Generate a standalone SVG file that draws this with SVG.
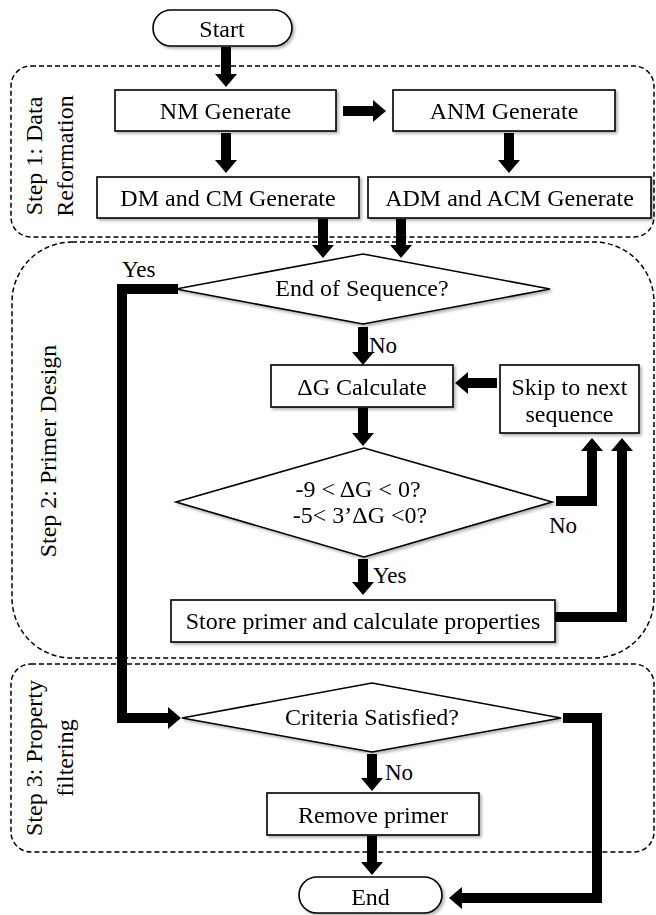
<svg xmlns="http://www.w3.org/2000/svg" width="656" height="915" viewBox="0 0 656 915">
<style>
  .box{fill:#fff;stroke:#000;stroke-width:1.6}
  .t{font-family:"Liberation Serif","Times New Roman",serif;font-size:24px;fill:#000;text-anchor:middle}
  .lbl{font-family:"Liberation Serif","Times New Roman",serif;font-size:23px;fill:#000}
  .step{font-family:"Liberation Serif","Times New Roman",serif;font-size:24px;fill:#000;text-anchor:middle}
  .cont{fill:none;stroke:#000;stroke-width:1.5;stroke-dasharray:5 3}
  .c{fill:none;stroke:#000;stroke-width:10;stroke-linejoin:miter;stroke-linecap:butt}
</style>
<defs>
  <marker id="ah" viewBox="0 0 13 22" markerWidth="13" markerHeight="22" refX="0" refY="11" orient="auto" markerUnits="userSpaceOnUse">
    <path d="M0,0 L13,11 L0,22 Z" fill="#000"/>
  </marker>
  <filter id="sh" x="-10%" y="-20%" width="130%" height="150%">
    <feDropShadow dx="2" dy="2" stdDeviation="1.5" flood-color="#000" flood-opacity="0.3"/>
  </filter>
</defs>

<g id="containers">
  <g id="step1">
    <rect class="cont" x="11" y="66" width="643" height="171" rx="20"/>
    <text class="step" transform="translate(42,156) rotate(-90)">Step 1: Data</text>
    <text class="step" transform="translate(73,156) rotate(-90)">Reformation</text>
  </g>
  <g id="step2">
    <rect class="cont" x="12" y="242" width="642" height="416" rx="60"/>
    <text class="step" transform="translate(56,451) rotate(-90)">Step 2: Primer Design</text>
  </g>
  <g id="step3">
    <rect class="cont" x="11" y="664" width="643" height="188" rx="20"/>
    <text class="step" transform="translate(42,758) rotate(-90)">Step 3: Property</text>
    <text class="step" transform="translate(73,758) rotate(-90)">filtering</text>
  </g>
</g>

<g id="connectors">
  <path class="c" d="M226,47 V74" marker-end="url(#ah)"/>
  <path class="c" d="M343,111 H373" marker-end="url(#ah)"/>
  <path class="c" d="M226,133 V160" marker-end="url(#ah)"/>
  <path class="c" d="M509,133 V160" marker-end="url(#ah)"/>
  <path class="c" d="M323,219 V245" marker-end="url(#ah)"/>
  <path class="c" d="M401,219 V245" marker-end="url(#ah)"/>
  <path class="c" d="M178,289 H122 V718 H168" marker-end="url(#ah)"/>
  <path class="c" d="M363,327 V352" marker-end="url(#ah)"/>
  <path class="c" d="M363,408 V433" marker-end="url(#ah)"/>
  <path class="c" d="M497,383 H468" marker-end="url(#ah)"/>
  <path class="c" d="M556,501 H592 V451" marker-end="url(#ah)"/>
  <path class="c" d="M363,559 V582" marker-end="url(#ah)"/>
  <path class="c" d="M555,617 H622 V451" marker-end="url(#ah)"/>
  <path class="c" d="M563,718 H597 V898 H462" marker-end="url(#ah)"/>
  <path class="c" d="M372,754 V778" marker-end="url(#ah)"/>
  <path class="c" d="M372,836 V862" marker-end="url(#ah)"/>
  <text class="lbl" x="122" y="277">Yes</text>
  <text class="lbl" x="369" y="353">No</text>
  <text class="lbl" x="549" y="533">No</text>
  <text class="lbl" x="373" y="583">Yes</text>
  <text class="lbl" x="385" y="780">No</text>
</g>

<g id="start" filter="url(#sh)">
  <rect class="box" x="153" y="10" width="139" height="36" rx="18"/>
  <text class="t" x="222" y="37">Start</text>
</g>
<g id="nm" filter="url(#sh)">
  <rect class="box" x="115" y="90" width="221" height="41"/>
  <text class="t" x="225.5" y="119">NM Generate</text>
</g>
<g id="anm" filter="url(#sh)">
  <rect class="box" x="393" y="90" width="222" height="41"/>
  <text class="t" x="504" y="119">ANM Generate</text>
</g>
<g id="dmcm" filter="url(#sh)">
  <rect class="box" x="97" y="177" width="262" height="41"/>
  <text class="t" x="228" y="206">DM and CM Generate</text>
</g>
<g id="admacm" filter="url(#sh)">
  <rect class="box" x="368" y="177" width="283" height="41"/>
  <text class="t" x="509.5" y="206">ADM and ACM Generate</text>
</g>
<g id="endseq" filter="url(#sh)">
  <polygon class="box" points="176,289 363,254 550,289 363,324"/>
  <text class="t" x="362" y="296">End of Sequence?</text>
</g>
<g id="dgcalc" filter="url(#sh)">
  <rect class="box" x="271" y="365" width="182" height="42"/>
  <text class="t" x="362" y="395">ΔG Calculate</text>
</g>
<g id="skip" filter="url(#sh)">
  <rect class="box" x="500" y="365" width="139" height="68"/>
  <text class="t" x="569.5" y="395">Skip to next</text>
  <text class="t" x="569.5" y="422">sequence</text>
</g>
<g id="dgcheck" filter="url(#sh)">
  <polygon class="box" points="176,502 364,448 552,502 364,557"/>
  <text class="t" x="358" y="497">-9 &lt; ΔG &lt; 0?</text>
  <text class="t" x="360" y="523">-5&lt; 3’ΔG &lt;0?</text>
</g>
<g id="store" filter="url(#sh)">
  <rect class="box" x="171" y="600" width="384" height="42"/>
  <text class="t" x="363" y="629">Store primer and calculate properties</text>
</g>
<g id="criteria" filter="url(#sh)">
  <polygon class="box" points="182,718 372,683 561,718 372,752"/>
  <text class="t" x="372" y="725">Criteria Satisfied?</text>
</g>
<g id="remove" filter="url(#sh)">
  <rect class="box" x="267" y="793" width="212" height="42"/>
  <text class="t" x="373" y="823">Remove primer</text>
</g>
<g id="end" filter="url(#sh)">
  <rect class="box" x="299" y="877" width="143" height="36" rx="18"/>
  <text class="t" x="370.5" y="905">End</text>
</g>
</svg>
